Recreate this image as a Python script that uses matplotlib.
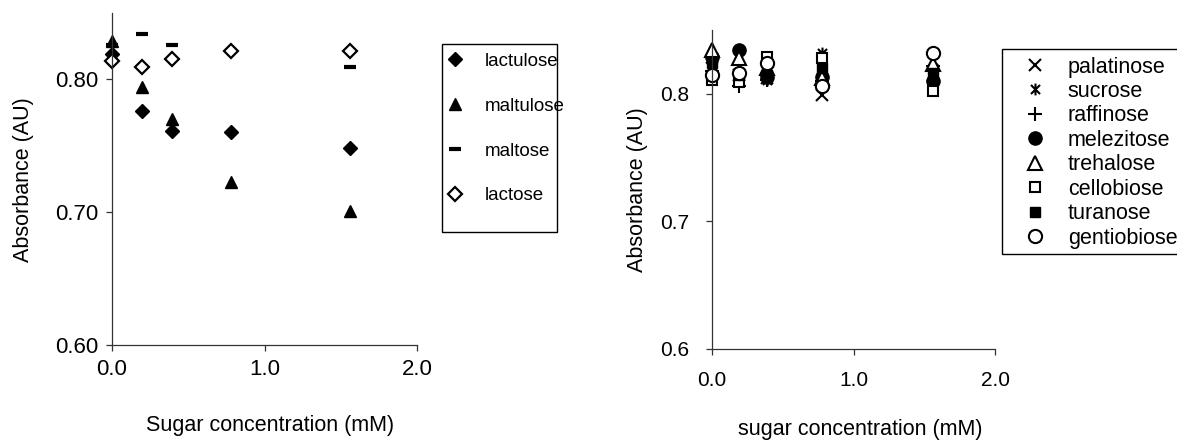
import matplotlib
matplotlib.use("Agg")
import matplotlib.pyplot as plt
from matplotlib.path import Path
from matplotlib.patches import Rectangle

plt.rcParams['font.family'] = ['Liberation Sans', 'DejaVu Sans']

# ---- data ----
conc = [0.0, 0.1953, 0.3906, 0.7813, 1.5625]

left_names = ["lactulose", "maltulose", "maltose", "lactose"]
lactulose = [0.819, 0.776, 0.761, 0.760, 0.748]
maltulose = [0.829, 0.794, 0.770, 0.723, 0.701]
maltose = [0.826, 0.834, 0.826, 0.821, 0.809]
lactose = [0.814, 0.809, 0.815, 0.821, 0.821]

right_names = ["palatinose", "sucrose", "raffinose", "melezitose",
               "trehalose", "cellobiose", "turanose", "gentiobiose"]
palatinose = [0.820, 0.815, 0.812, 0.799, 0.815]
sucrose = [0.822, 0.815, 0.811, 0.832, 0.820]
raffinose = [0.818, 0.806, 0.811, 0.810, 0.822]
melezitose = [0.829, 0.834, 0.813, 0.813, 0.810]
trehalose = [0.834, 0.828, 0.820, 0.812, 0.823]
cellobiose = [0.811, 0.809, 0.829, 0.828, 0.802]
turanose = [0.824, 0.815, 0.815, 0.820, 0.816]
gentiobiose = [0.815, 0.816, 0.824, 0.806, 0.832]

xticks = [0.0, 1.0, 2.0]
left_yticks = [0.60, 0.70, 0.80]
right_yticks = [0.6, 0.7, 0.8]

FS = 15.5
W, H = 1177, 441

fig = plt.figure(figsize=(W/100, H/100), dpi=100)

def fx(px):
    return px / W

def fy(py):
    return 1 - py / H

def style_axes(ax, fs):
    for s in ("top", "right"):
        ax.spines[s].set_visible(False)
    for s in ("left", "bottom"):
        ax.spines[s].set_color("#333333")
        ax.spines[s].set_linewidth(0.9)
        ax.spines[s].set_clip_on(False)
    ax.tick_params(direction="out", length=4, width=0.9, color="#333333",
                   labelsize=fs)

def frame_box(x0, y0, x1, y1):
    fig.patches.append(Rectangle((fx(x0), fy(y1)), fx(x1) - fx(x0), fy(y0) - fy(y1),
                                 transform=fig.transFigure, fill=False,
                                 edgecolor="black", linewidth=1.0))

# ---- left chart ----
axL = fig.add_axes([fx(112), fy(344.7), fx(417) - fx(112), fy(13) - fy(344.7)])
style_axes(axL, 16)
hL = []
hL.append(axL.plot(conc, lactulose, ls="none", marker="D", ms=7.5, color="black", mec="black")[0])
hL.append(axL.plot(conc, maltulose, ls="none", marker="^", ms=9, color="black", mec="black")[0])
hL.append(axL.plot(conc, maltose, ls="none", marker="_", ms=9, mew=3, color="black")[0])
hL.append(axL.plot(conc, lactose, ls="none", marker="D", ms=7.5, mfc="white", mec="black", mew=1.6)[0])
for l in hL:
    l.set_clip_on(False)
axL.set_xlim(0, 2.0)
axL.set_ylim(0.60, 0.85)
axL.set_xticks(xticks)
axL.set_xticklabels([f"{v:.1f}" for v in xticks])
axL.set_yticks(left_yticks)
axL.set_yticklabels([f"{v:.2f}" for v in left_yticks])
axL.tick_params(axis="x", pad=6)
axL.tick_params(axis="y", pad=6)
fig.text(fx(24), fy(180), "Absorbance (AU)", rotation=90, ha="center", va="center", fontsize=FS)
fig.text(fx(270), fy(426), "Sugar concentration (mM)", ha="center", va="center", fontsize=FS)

legL = fig.legend(hL, left_names, loc="upper left",
                  bbox_to_anchor=(fx(442), fy(49)), fontsize=13.5,
                  frameon=False,
                  labelspacing=1.48, handlelength=1.0, handletextpad=1.1,
                  borderpad=0.2, borderaxespad=0, numpoints=1)
frame_box(442, 44, 557, 232)

# ---- right chart ----
axR = fig.add_axes([fx(711.7), fy(348.7), fx(995.3) - fx(711.7), fy(30) - fy(348.7)])
style_axes(axR, 15)
ast = Path([(-1, -1), (1, 1), (-1, 1), (1, -1), (0, -1.3), (0, 1.3)],
           [Path.MOVETO, Path.LINETO, Path.MOVETO, Path.LINETO, Path.MOVETO, Path.LINETO])
rms = 8.5
specs = [
    (palatinose, dict(marker="x", ms=rms, mew=1.5, color="black")),
    (sucrose, dict(marker=ast, ms=rms, mew=1.5, color="black")),
    (raffinose, dict(marker="+", ms=rms + 1.5, mew=1.5, color="black")),
    (melezitose, dict(marker="o", ms=rms + 1, color="black", mec="black")),
    (trehalose, dict(marker="^", ms=rms + 1, mfc="white", mec="black", mew=1.5)),
    (cellobiose, dict(marker="s", ms=rms - 1, mfc="white", mec="black", mew=1.5)),
    (turanose, dict(marker="s", ms=rms - 1, color="black", mec="black")),
    (gentiobiose, dict(marker="o", ms=rms + 1, mfc="white", mec="black", mew=1.5)),
]
hR = []
for vals, kw in specs:
    line = axR.plot(conc, vals, ls="none", **kw)[0]
    line.set_clip_on(False)
    hR.append(line)
axR.set_xlim(0, 2.0)
axR.set_ylim(0.6, 0.85)
axR.set_xticks(xticks)
axR.set_xticklabels([f"{v:.1f}" for v in xticks])
axR.set_yticks(right_yticks)
axR.set_yticklabels([f"{v:.1f}" for v in right_yticks])
axR.tick_params(axis="x", pad=12)
axR.tick_params(axis="y", pad=12)
fig.text(fx(637), fy(190), "Absorbance (AU)", rotation=90, ha="center", va="center", fontsize=FS)
fig.text(fx(860), fy(430), "sugar concentration (mM)", ha="center", va="center", fontsize=FS)

legR = fig.legend(hR, right_names, loc="upper left",
                  bbox_to_anchor=(fx(1002), fy(49)), fontsize=FS,
                  frameon=False,
                  labelspacing=0.16, handlelength=2.4, handletextpad=0.3,
                  borderpad=0.35, borderaxespad=0, numpoints=1)
frame_box(1002, 49, 1190, 254)

fig.savefig("out.png", dpi=100)
